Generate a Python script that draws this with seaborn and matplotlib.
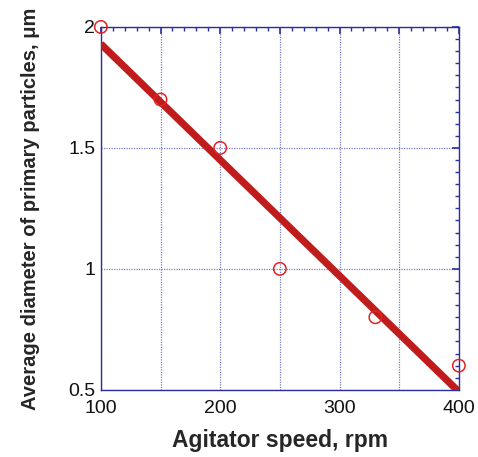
import numpy as np
import pandas as pd
import matplotlib
matplotlib.use("Agg")
import matplotlib.pyplot as plt
import seaborn as sns
from matplotlib.ticker import MultipleLocator, FuncFormatter

speed = [100, 150, 200, 250, 330, 400]
diameter = [2.0, 1.7, 1.5, 1.0, 0.8, 0.6]
xtick_labels = ["100", "200", "300", "400"]
ytick_labels = ["0.5", "1", "1.5", "2"]

df = pd.DataFrame({"speed": speed, "diameter": diameter})

sns.set_style("white")
plt.rcParams['font.family'] = ['Liberation Sans', 'DejaVu Sans']

fig = plt.figure(figsize=(4.78, 4.57), dpi=100)
ax = fig.add_axes([0.211, 0.147, 0.749, 0.794])

spine_c = "#2b2f9a"
grid_c = "#4a50b8"

# regression line
sns.regplot(data=df, x="speed", y="diameter", ax=ax, ci=None, scatter=False,
            truncate=True, line_kws=dict(color="#c01c1c", lw=5.2, solid_capstyle="butt", zorder=3))
sns.scatterplot(data=df, x="speed", y="diameter", ax=ax, marker="o", s=80,
                facecolors="none", edgecolor="#e52222", linewidth=1.1, zorder=4, clip_on=False)

ax.set_xlim(100, 400)
ax.set_ylim(0.5, 2.0)

ax.xaxis.set_major_locator(MultipleLocator(50))
ax.xaxis.set_minor_locator(MultipleLocator(10))
ax.yaxis.set_major_locator(MultipleLocator(0.5))
ax.yaxis.set_minor_locator(MultipleLocator(0.05))

xlab = dict(zip([100, 200, 300, 400], xtick_labels))
ylab = dict(zip([0.5, 1.0, 1.5, 2.0], ytick_labels))
ax.xaxis.set_major_formatter(FuncFormatter(lambda v, p: xlab.get(int(round(v)), "") if abs(v - round(v)) < 1e-6 else ""))
ax.yaxis.set_major_formatter(FuncFormatter(lambda v, p: ylab.get(round(v, 2), "")))

ax.grid(True, which="major", color=grid_c, linestyle=(0, (1, 1)), linewidth=0.9, alpha=0.75)

for s in ax.spines.values():
    s.set_color(spine_c)
    s.set_linewidth(1.0)

ax.tick_params(which="both", direction="in", top=True, right=True, color=spine_c,
               labelsize=14, labelcolor="#111111")
ax.tick_params(which="major", length=5, width=1.2, pad=4)
ax.tick_params(which="minor", length=3, width=1.0)
ax.tick_params(axis="x", which="major", pad=7)

ax.set_xlabel("Agitator speed, rpm", fontsize=16.5, fontweight="bold", labelpad=9)
ax.set_ylabel("Average diameter of primary particles, μm", fontsize=14.5, fontweight="bold", labelpad=20)

fig.savefig("out.png", dpi=100)
